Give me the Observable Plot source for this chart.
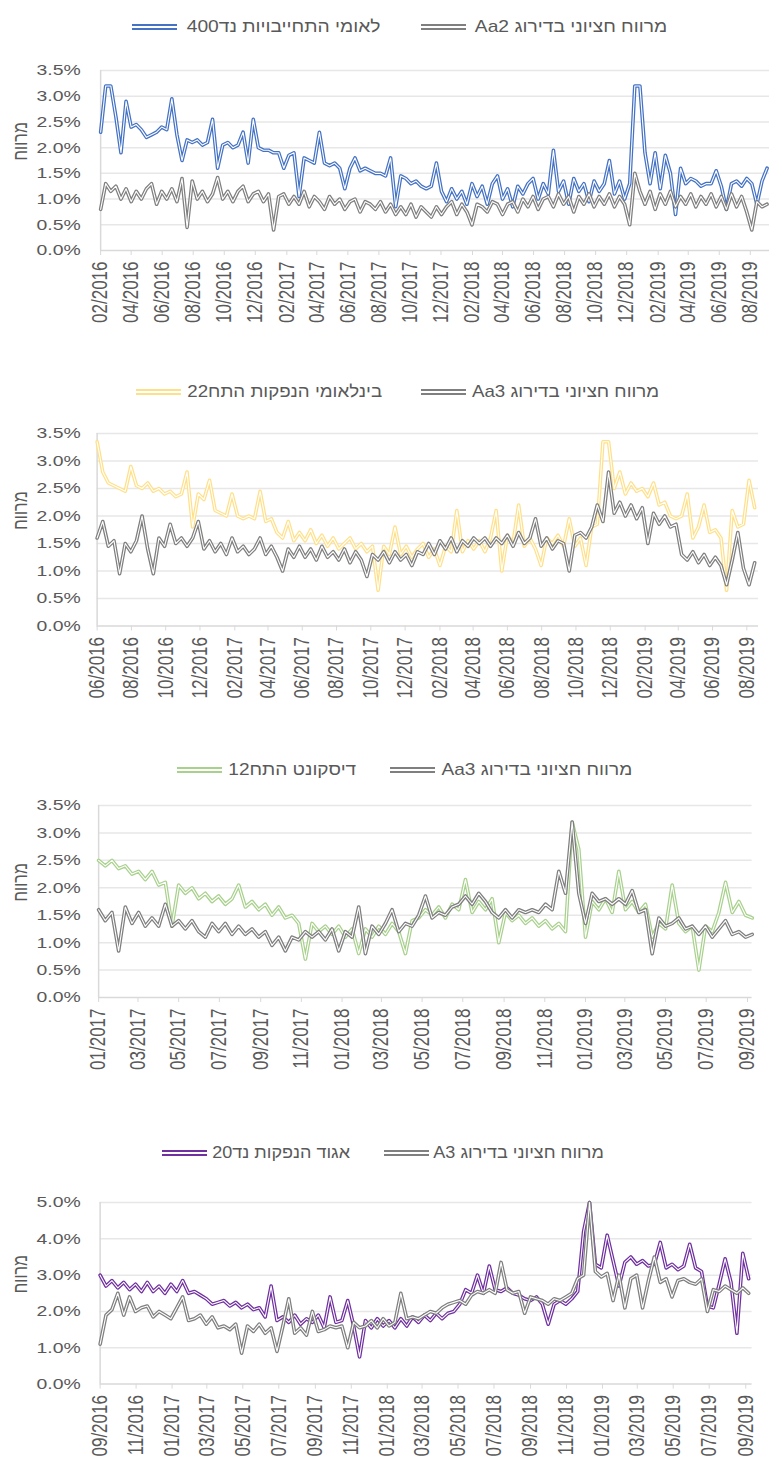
<!DOCTYPE html>
<html><head><meta charset="utf-8">
<script src="https://cdn.jsdelivr.net/npm/d3@7"></script>
<script src="https://cdn.jsdelivr.net/npm/@observablehq/plot@0.6"></script>
<style>
html,body{margin:0;padding:0;background:#fff;}
body{width:769px;height:1466px;position:relative;overflow:hidden;font-family:"Liberation Sans",Arial,"DejaVu Sans",sans-serif;}
.legtx{position:absolute;font-size:17px;color:#595959;line-height:20px;white-space:nowrap;display:inline-block;transform-origin:100% 50%;}
.sw{position:absolute;width:45px;height:2px;border-top:2px solid;border-bottom:2px solid;}
.chart{position:absolute;left:0;}
</style></head><body>
<script>
// ---------- data ----------
const STEP_DAYS = 10;
const yTitle = "מרווח";

// Panel 1
const p1Legend = ["מרווח חציוני בדירוג Aa2", "לאומי התחייבויות נד400"];
const p1Start = "2016-02-01", p1End = "2019-09-08";
const p1XTicks = ["02/2016","04/2016","06/2016","08/2016","10/2016","12/2016","02/2017","04/2017","06/2017","08/2017","10/2017","12/2017","02/2018","04/2018","06/2018","08/2018","10/2018","12/2018","02/2019","04/2019","06/2019","08/2019"];
const p1YTicks = ["0.0%","0.5%","1.0%","1.5%","2.0%","2.5%","3.0%","3.5%"];
const p1Bond = [2.3,3.2,3.2,2.6,1.9,2.9,2.4,2.45,2.35,2.2,
 2.25,2.3,2.4,2.35,2.95,2.25,1.75,2.15,2.1,2.15,
 2.05,2.1,2.55,1.6,2.05,2.1,2.0,2.05,2.3,1.7,
 2.55,2.0,1.95,1.95,1.9,1.9,1.6,1.85,1.9,1.05,
 1.8,1.75,1.7,2.3,1.7,1.65,1.7,1.6,1.2,1.6,
 1.8,1.55,1.6,1.55,1.5,1.5,1.45,1.8,0.85,1.45,
 1.4,1.3,1.35,1.25,1.2,1.25,1.7,1.15,0.95,1.2,
 1.0,1.15,0.9,1.3,1.05,1.25,0.9,1.3,1.45,1.0,
 1.2,0.85,1.25,1.1,1.3,1.4,1.0,1.3,1.1,1.95,
 1.15,1.35,0.9,1.4,1.15,1.3,0.95,1.35,1.15,1.3,
 1.75,1.1,1.35,1.0,1.3,3.2,3.2,1.9,1.3,1.9,
 1.2,1.85,1.5,0.7,1.6,1.3,1.4,1.35,1.25,1.3,
 1.3,1.55,1.25,0.8,1.3,1.35,1.25,1.4,1.3,0.9,
 1.35,1.6];
const p1Gray = [0.8,1.3,1.15,1.25,1.0,1.2,0.95,1.15,1.0,1.2,
 1.3,0.9,1.15,1.0,1.2,0.95,1.4,0.45,1.35,1.0,
 1.15,0.95,1.1,1.42,1.0,1.15,0.95,1.15,1.25,0.95,
 1.1,1.15,0.95,1.1,0.4,1.05,1.1,0.9,1.05,0.9,
 1.15,0.85,1.05,0.95,0.8,1.05,0.9,1.0,0.8,0.95,
 1.0,0.75,0.95,0.9,0.8,0.95,0.75,0.9,0.7,0.85,
 0.7,0.9,0.65,0.85,0.75,0.65,0.85,0.7,0.85,0.95,
 0.7,0.9,0.75,0.5,0.9,0.85,0.75,0.95,0.9,0.7,
 0.9,0.95,0.75,1.0,0.85,1.05,0.8,1.0,1.05,0.85,
 1.1,0.9,1.05,0.75,1.05,0.9,1.1,0.85,1.05,0.9,
 1.1,0.85,1.05,0.9,0.5,1.5,1.15,0.9,1.15,0.8,
 1.1,0.9,1.15,0.85,1.05,0.9,1.1,0.85,1.05,0.9,
 1.1,0.85,1.05,0.8,1.1,0.85,1.05,0.75,0.4,0.95,
 0.85,0.9];

// Panel 2
const p2Legend = ["מרווח חציוני בדירוג Aa3", "בינלאומי הנפקות התח22"];
const p2Start = "2016-06-01", p2End = "2019-08-22";
const p2XTicks = ["06/2016","08/2016","10/2016","12/2016","02/2017","04/2017","06/2017","08/2017","10/2017","12/2017","02/2018","04/2018","06/2018","08/2018","10/2018","12/2018","02/2019","04/2019","06/2019","08/2019"];
const p2YTicks = ["0.0%","0.5%","1.0%","1.5%","2.0%","2.5%","3.0%","3.5%"];
const p2Bond = [3.35,2.8,2.6,2.55,2.5,2.45,2.9,2.55,2.5,2.6,
 2.45,2.5,2.4,2.45,2.35,2.4,2.8,1.8,2.4,2.3,
 2.65,2.1,2.05,2.0,2.4,2.0,1.95,2.0,1.95,2.45,
 1.9,1.95,1.7,1.6,1.9,1.55,1.7,1.55,1.75,1.5,
 1.65,1.45,1.6,1.4,1.5,1.6,1.4,1.5,1.35,1.45,
 0.65,1.45,1.3,1.8,1.3,1.45,1.25,1.4,1.5,1.25,
 1.4,1.1,1.45,1.35,2.1,1.35,1.55,1.4,1.55,1.35,
 1.6,2.1,1.0,1.65,1.5,2.2,1.45,1.6,1.4,1.1,
 1.6,1.5,1.65,1.45,1.95,1.45,1.6,1.1,1.8,1.85,
 3.35,3.35,2.5,2.8,2.4,2.6,2.45,2.5,2.35,2.6,
 2.2,2.25,2.0,1.95,2.0,2.4,1.6,1.8,2.2,1.7,
 1.75,1.6,0.65,2.1,1.8,1.85,2.65,2.15];
const p2Gray = [1.6,1.9,1.45,1.55,0.95,1.5,1.35,1.55,2.0,1.4,
 0.95,1.6,1.45,1.85,1.5,1.6,1.45,1.6,1.9,1.4,
 1.55,1.35,1.5,1.3,1.6,1.35,1.45,1.3,1.4,1.6,
 1.3,1.45,1.25,1.0,1.4,1.25,1.45,1.25,1.4,1.2,
 1.45,1.25,1.35,1.2,1.4,1.15,1.35,1.2,0.9,1.3,
 1.2,1.35,1.15,1.35,1.2,1.3,1.1,1.35,1.3,1.5,
 1.3,1.55,1.4,1.6,1.35,1.55,1.45,1.6,1.5,1.6,
 1.45,1.6,1.5,1.65,1.45,1.7,1.5,1.6,1.95,1.45,
 1.6,1.4,1.55,1.5,1.0,1.65,1.7,1.6,1.8,2.2,
 1.9,2.8,2.05,2.25,2.0,2.2,1.95,2.15,1.5,2.05,
 1.85,2.0,1.8,1.85,1.3,1.2,1.35,1.15,1.3,1.1,
 1.25,1.1,0.75,1.2,1.7,1.05,0.75,1.15];

// Panel 3
const p3Legend = ["מרווח חציוני בדירוג Aa3", "דיסקונט התח12"];
const p3Start = "2017-01-01", p3End = "2019-09-08";
const p3XTicks = ["01/2017","03/2017","05/2017","07/2017","09/2017","11/2017","01/2018","03/2018","05/2018","07/2018","09/2018","11/2018","01/2019","03/2019","05/2019","07/2019","09/2019"];
const p3YTicks = ["0.0%","0.5%","1.0%","1.5%","2.0%","2.5%","3.0%","3.5%"];
const p3Bond = [2.5,2.4,2.5,2.35,2.4,2.25,2.3,2.15,2.3,2.05,
 2.1,1.3,2.05,1.9,2.0,1.8,1.9,1.75,1.85,1.7,
 1.8,2.05,1.65,1.75,1.6,1.7,1.5,1.65,1.45,1.5,
 1.35,0.7,1.35,1.2,1.3,1.15,1.3,1.1,1.25,0.8,
 1.25,1.1,1.3,1.15,1.35,1.2,0.8,1.4,1.45,1.6,
 1.5,1.65,1.45,1.7,1.6,2.15,1.55,1.75,1.6,1.8,
 1.0,1.55,1.4,1.5,1.35,1.45,1.3,1.4,1.25,1.35,
 1.2,3.2,2.7,1.1,1.75,1.6,1.8,1.55,2.3,1.6,
 1.75,1.55,1.7,1.1,1.35,1.25,2.05,1.35,1.2,1.3,
 0.5,1.3,1.2,1.55,2.1,1.55,1.75,1.5,1.45];
const p3Gray = [1.6,1.4,1.55,0.85,1.65,1.35,1.55,1.3,1.45,1.3,
 1.7,1.3,1.4,1.25,1.4,1.2,1.1,1.35,1.2,1.35,
 1.15,1.3,1.15,1.25,1.1,1.2,0.95,1.1,0.85,1.1,
 1.05,1.2,1.1,1.2,1.05,1.25,0.85,1.2,1.1,1.65,
 0.8,1.3,1.15,1.35,1.6,1.2,1.35,1.3,1.5,1.85,
 1.45,1.55,1.5,1.65,1.7,1.85,1.7,1.9,1.75,1.55,
 1.45,1.6,1.45,1.6,1.55,1.6,1.55,1.7,1.6,2.3,
 1.9,3.2,1.9,1.35,1.9,1.75,1.8,1.7,1.8,1.7,
 1.95,1.55,1.6,0.8,1.45,1.3,1.35,1.45,1.25,1.3,
 1.15,1.3,1.1,1.25,1.4,1.15,1.2,1.1,1.15];

// Panel 4
const p4Legend = ["מרווח חציוני בדירוג A3", "אגוד הנפקות נד20"];
const p4Start = "2016-09-01", p4End = "2019-09-12";
const p4XTicks = ["09/2016","11/2016","01/2017","03/2017","05/2017","07/2017","09/2017","11/2017","01/2018","03/2018","05/2018","07/2018","09/2018","11/2018","01/2019","03/2019","05/2019","07/2019","09/2019"];
const p4YTicks = ["0.0%","1.0%","2.0%","3.0%","4.0%","5.0%"];
const p4Bond = [3.0,2.7,2.85,2.65,2.8,2.6,2.75,2.55,2.8,2.55,
 2.7,2.5,2.75,2.55,2.85,2.5,2.55,2.45,2.35,2.2,
 2.25,2.3,2.15,2.25,2.1,2.2,2.05,2.1,1.85,2.7,
 1.75,1.85,1.7,1.9,1.65,1.8,1.7,1.9,1.55,2.4,
 1.7,1.75,2.3,1.6,0.75,1.75,1.55,1.8,1.6,1.75,
 1.55,1.8,1.6,1.85,1.7,1.9,1.75,1.95,1.8,1.95,
 2.0,2.2,2.6,2.5,3.0,2.5,3.25,2.6,2.55,2.65,
 2.5,2.45,2.35,2.3,2.4,2.2,1.65,2.2,2.3,2.2,
 2.35,2.55,4.2,5.0,3.3,3.2,4.1,3.4,2.7,3.35,
 3.5,3.3,3.4,3.25,3.3,3.9,3.2,3.3,3.15,3.25,
 3.85,3.2,3.1,2.15,2.1,2.75,3.45,2.8,1.4,3.6,
 2.9];
const p4Gray = [1.1,1.9,2.05,2.5,1.9,2.4,2.0,2.1,2.15,1.85,
 2.0,1.9,1.8,2.1,2.4,1.75,1.8,1.9,1.65,1.85,
 1.55,1.6,1.5,1.65,0.85,1.6,1.45,1.65,1.4,1.55,
 0.9,1.6,2.35,1.4,1.55,1.35,2.0,1.45,1.5,1.6,
 1.55,1.6,1.0,1.7,1.55,1.6,1.75,1.55,1.8,1.6,
 1.7,2.5,1.8,1.85,1.8,1.9,2.0,1.95,2.1,2.2,
 2.25,2.3,2.2,2.45,2.55,2.5,2.6,2.5,3.35,2.6,
 2.5,2.55,1.95,2.4,2.35,2.3,2.2,2.35,2.3,2.4,
 2.5,2.9,3.0,5.0,3.1,2.95,3.05,2.3,3.0,2.1,
 2.9,3.0,2.1,2.85,3.5,2.8,2.9,2.4,2.85,2.9,
 2.8,2.75,2.9,2.0,2.6,2.55,2.7,2.6,2.5,2.65,
 2.5];

// ---------- layout / style ----------
const REAL_W = 769, DESIGN_W = 615, K = REAL_W / DESIGN_W;
const FONT = "'Liberation Sans', Arial, 'DejaVu Sans', sans-serif";
const GRAY = "#7f7f7f", TEXT = "#595959";

const panels = [
  {legend: p1Legend, start: p1Start, end: p1End, xTicks: p1XTicks, yTicks: p1YTicks, bond: p1Bond, gray: p1Gray,
   color: "#4472C4", svgTop: 50, plotH: 180, mb: 85, left: 100, right: 769,
   legTop: 17, legRight: [102, 389], gap: 9, legScale: 1.13},
  {legend: p2Legend, start: p2Start, end: p2End, xTicks: p2XTicks, yTicks: p2YTicks, bond: p2Bond, gray: p2Gray,
   color: "#FFE08A", svgTop: 412.5, plotH: 192.5, mb: 85, left: 96.5, right: 758,
   legTop: 382, legRight: [110, 387], gap: 6, legScale: 1.10},
  {legend: p3Legend, start: p3Start, end: p3End, xTicks: p3XTicks, yTicks: p3YTicks, bond: p3Bond, gray: p3Gray,
   color: "#A9D18E", svgTop: 785, plotH: 192, mb: 85, left: 98, right: 751.6,
   legTop: 760, legRight: [137, 413], gap: 6, legScale: 1.12},
  {legend: p4Legend, start: p4Start, end: p4End, xTicks: p4XTicks, yTicks: p4YTicks, bond: p4Bond, gray: p4Gray,
   color: "#7030A0", svgTop: 1181.7, plotH: 181.6, mb: 84, left: 99.5, right: 751.6,
   legTop: 1143, legRight: [165, 419], gap: 5, legScale: 1.06}
];

const parseDay = d3.utcParse("%Y-%m-%d");
const parseTick = d3.utcParse("%m/%Y");

function addLegend(p) {
  const colors = [GRAY, p.color];
  p.legend.forEach((label, i) => {
    const tx = document.createElement("div");
    tx.className = "legtx";
    tx.dir = "rtl";
    tx.style.top = p.legTop + "px";
    tx.style.right = p.legRight[i] + "px";
    tx.style.transform = `scaleX(${p.legScale})`;
    tx.textContent = label;
    document.body.append(tx);
    const left = tx.getBoundingClientRect().left;
    const sw = document.createElement("div");
    sw.className = "sw";
    sw.style.color = colors[i];
    sw.style.top = (p.legTop + 7) + "px";
    sw.style.left = (left - p.gap - 45) + "px";
    document.body.append(sw);
  });
}

function addPanel(p) {
  const start = parseDay(p.start), end = parseDay(p.end);
  const rows = vals => vals.map((v, i) => ({date: d3.utcDay.offset(start, i * STEP_DAYS), v}));
  const bond = rows(p.bond), gray = rows(p.gray);
  const yVals = p.yTicks.map(s => parseFloat(s));
  const yLab = new Map(yVals.map((v, i) => [v, p.yTicks[i]]));
  const ml = p.left / K, mr = (REAL_W - p.right) / K, mt = 20;
  const H = mt + p.plotH + p.mb;
  const svg = Plot.plot({
    width: DESIGN_W, height: H,
    marginTop: mt, marginBottom: p.mb, marginLeft: ml, marginRight: mr,
    style: {fontFamily: FONT, background: "transparent", overflow: "visible"},
    x: {type: "utc", domain: [start, end]},
    y: {domain: [0, yVals[yVals.length - 1]]},
    marks: [
      Plot.ruleY(yVals.slice(1), {stroke: "#e7e7e7", strokeWidth: 1.5}),
      Plot.ruleY([0], {stroke: "#d9d9d9", strokeWidth: 1.5}),
      Plot.ruleX([start], {stroke: "#d9d9d9", strokeWidth: 1.5}),
      Plot.axisY({ticks: yVals, tickFormat: d => yLab.get(d), tickSize: 0, tickPadding: ml - 64,
        fontSize: 15.5, fill: TEXT, label: null}),
      Plot.axisX({ticks: p.xTicks.map(parseTick), tickFormat: d3.utcFormat("%m/%Y"), tickRotate: -90,
        tickSize: 5, tickPadding: 6, stroke: "#d9d9d9", fill: TEXT, fontSize: 17, label: null}),
      Plot.text([yTitle], {text: d => d, frameAnchor: "left", dx: 16 - ml, rotate: -90, fontSize: 16, fill: TEXT}),
      Plot.lineY(bond, {x: "date", y: "v", stroke: p.color, strokeWidth: 3.6}),
      Plot.lineY(bond, {x: "date", y: "v", stroke: "#fff", strokeWidth: 1.1}),
      Plot.lineY(gray, {x: "date", y: "v", stroke: GRAY, strokeWidth: 3.6}),
      Plot.lineY(gray, {x: "date", y: "v", stroke: "#fff", strokeWidth: 1.1})
    ]
  });
  svg.setAttribute("width", REAL_W);
  svg.setAttribute("preserveAspectRatio", "none");
  svg.style.width = REAL_W + "px";
  svg.style.height = H + "px";
  svg.style.maxWidth = "none";
  svg.querySelectorAll("path, line").forEach(e => e.setAttribute("vector-effect", "non-scaling-stroke"));
  const wrap = document.createElement("div");
  wrap.className = "chart";
  wrap.style.top = p.svgTop + "px";
  wrap.append(svg);
  document.body.append(wrap);
  addLegend(p);
}

panels.forEach(addPanel);
</script>
</body></html>
